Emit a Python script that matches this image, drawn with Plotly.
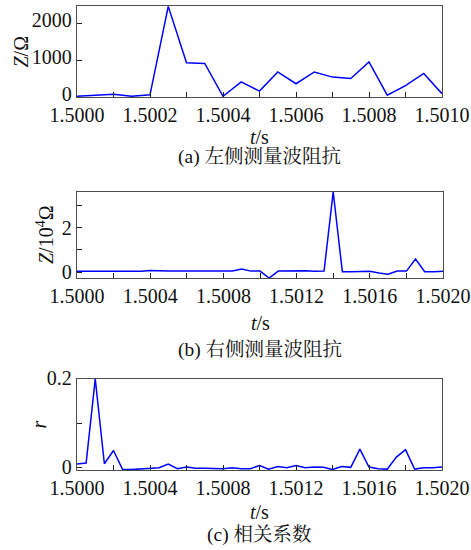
import plotly.graph_objects as go

W, H = 471, 550

# ---- data ----
t_a = [1.5 + i * 0.00005 for i in range(21)]
z_a = [20, 40, 75, 20, 60, 2460, 930, 910, 20, 410, 160, 680, 360, 680, 540,
       500, 950, 50, 310, 640, 90]

t_bc = [1.5 + i * 0.00005 for i in range(41)]
z_b = [0.03, 0.03, 0.03, 0.03, 0.03, 0.03, 0.03, 0.03, 0.07, 0.04,
       0.04, 0.05, 0.05, 0.05, 0.05, 0.05, 0.06, 0.05, 0.13, 0.04,
       0.04, -0.27, 0.04, 0.05, 0.04, 0.06, 0.03, 0.04, 3.6, 0.01,
       0.01, 0.03, 0.03, -0.04, -0.10, 0.04, 0.04, 0.58, 0.01, 0.01, 0.03]
r_c = [0.0084, 0.0106, 0.2, 0.009, 0.039, -0.004, -0.004, -0.003, -0.002, 0.0,
       0.0084, -0.002, 0.002, -0.001, -0.001, -0.001, -0.002, 0.0, -0.002, -0.002,
       0.0053, -0.003, 0.003, 0.0, 0.005, 0.0, 0.002, 0.001, -0.004, 0.003,
       0.001, 0.042, 0.0015, -0.002, -0.003, 0.024, 0.041, -0.003, 0.0, 0.0, 0.002]

captions = ["(a) 左侧测量波阻抗", "(b) 右侧测量波阻抗", "(c) 相关系数"]
ytitles = ["<i>Z</i>/Ω", "<i>Z</i>/10<sup>4</sup>Ω", "<i>r</i>"]

# ---- layout helpers (pixel boxes) ----
boxes = [(77, 442, 6, 97), (77, 443, 192, 278), (77, 442, 379, 470)]

def px(x):
    return x / W

def py(y):
    return 1 - y / H

FONT = "Liberation Serif, Times New Roman, serif"
CJK = "Liberation Serif, Noto Serif CJK SC, Noto Sans CJK SC, serif"
LINE = "#0000ff"
FRAME = "#4d4d4d"

fig = go.Figure()
fig.add_trace(go.Scatter(x=t_a, y=z_a, mode="lines", line=dict(color=LINE, width=1.5),
                         xaxis="x", yaxis="y", showlegend=False))
fig.add_trace(go.Scatter(x=t_bc, y=z_b, mode="lines", line=dict(color=LINE, width=1.5),
                         xaxis="x2", yaxis="y2", showlegend=False))
fig.add_trace(go.Scatter(x=t_bc, y=r_c, mode="lines", line=dict(color=LINE, width=1.5),
                         xaxis="x3", yaxis="y3", showlegend=False))

common_ax = dict(showline=True, linecolor=FRAME, linewidth=1.3, mirror=True,
                 showgrid=False, zeroline=False, ticks="inside", ticklen=5,
                 tickcolor="#222", tickwidth=1.2, automargin=False,
                 tickfont=dict(family=FONT, size=20, color="#111"))

xranges = [[1.5, 1.501], [1.5, 1.502], [1.5, 1.502]]
xdt = [0.0002, 0.0004, 0.0004]
xmin = [0.0001, 0.0002, 0.0002]
yranges = [[0, 2470], [-0.27, 3.6], [-0.005, 0.2]]
ydt = [1000, 2, 0.2]
ymin = [None, 1, 0.1]
yshift = [-3, 0, -1]

layout = dict(width=W, height=H, margin=dict(l=0, r=0, t=0, b=0, autoexpand=False),
              paper_bgcolor="white", plot_bgcolor="white", showlegend=False)

annotations = []
for k in range(3):
    x0, x1, y0, y1 = boxes[k]
    sx = "" if k == 0 else str(k + 1)
    xa = dict(common_ax, domain=[px(x0), px(x1)], range=xranges[k], tick0=1.5,
              dtick=xdt[k], tickformat=".4f", anchor="y" + sx,
              minor=dict(dtick=xmin[k], tick0=1.5, ticks="inside", ticklen=5,
                         tickcolor="#222", tickwidth=1.2, showgrid=False))
    ya = dict(common_ax, domain=[py(y1), py(y0)], range=yranges[k], tick0=0,
              dtick=ydt[k], anchor="x" + sx, ticklabelshift=yshift[k])
    if ymin[k] is not None:
        ya["minor"] = dict(dtick=ymin[k], tick0=0, ticks="inside", ticklen=5,
                           tickcolor="#222", tickwidth=1.2, showgrid=False)
    layout["xaxis" + sx] = xa
    layout["yaxis" + sx] = ya

# axis titles & captions
title_pos = [137, 323, 512]
cap_pos = [157, 350, 535]
ytitle_x = [21, 45, 38]
for k in range(3):
    x0, x1, y0, y1 = boxes[k]
    annotations.append(dict(text="<i>t</i>/s", x=px((x0 + x1) / 2), y=py(title_pos[k]),
                            xref="paper", yref="paper", showarrow=False,
                            xanchor="center", yanchor="middle",
                            font=dict(family=FONT, size=20, color="#111")))
    annotations.append(dict(text=captions[k], x=px((x0 + x1) / 2), y=py(cap_pos[k]),
                            xref="paper", yref="paper", showarrow=False,
                            xanchor="center", yanchor="middle",
                            font=dict(family=CJK, size=19.5, color="#111")))
    annotations.append(dict(text=ytitles[k], x=px(ytitle_x[k]), y=py((y0 + y1) / 2),
                            xref="paper", yref="paper", showarrow=False, textangle=-90,
                            xanchor="center", yanchor="middle",
                            font=dict(family=FONT, size=20, color="#111")))
layout["annotations"] = annotations

fig.update_layout(**layout)
fig.write_html("out.html", config={"displayModeBar": False},
               post_script="document.body.style.margin='0';"
                           "document.body.style.overflow='hidden';")
